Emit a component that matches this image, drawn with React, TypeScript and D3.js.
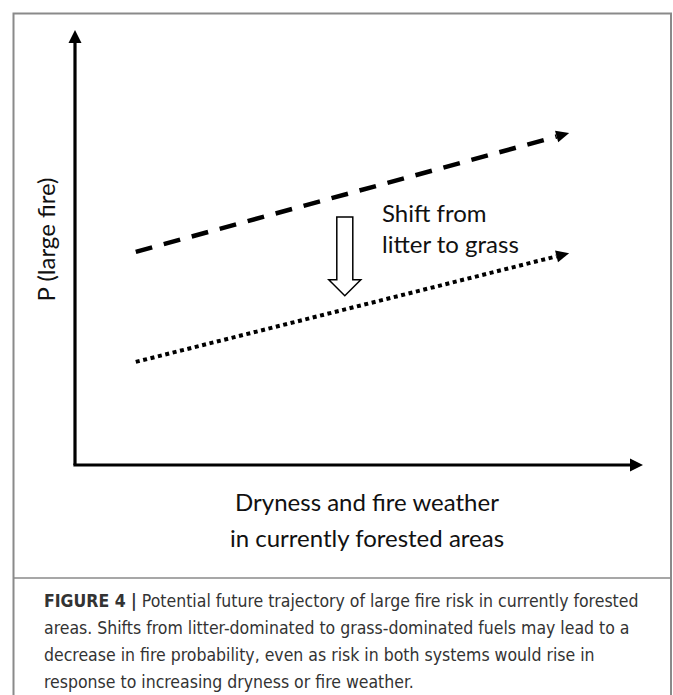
import React from "react";
import * as d3 from "d3";

// ---- data (abstract units, 0..1) ----
const xRange = [0.107, 0.87];            // start / end along dryness axis
const litterSeries = [0.49, 0.763];      // P(large fire), litter-dominated (dashed)
const grassSeries = [0.237, 0.487];      // P(large fire), grass-dominated (dotted)
const shiftArrow = [0.475, 0.57, 0.389]; // x, from, to
const xLabelLines = ["Dryness and fire weather", "in currently forested areas"];
const yLabel = "P (large fire)";
const annotationLines = ["Shift from", "litter to grass"];
const captionBold = "FIGURE 4 |";
const captionLines = [
  " Potential future trajectory of large fire risk in currently forested",
  "areas. Shifts from litter-dominated to grass-dominated fuels may lead to a",
  "decrease in fire probability, even as risk in both systems would rise in",
  "response to increasing dryness or fire weather.",
];

const W = 673;
const H = 695;

function head(x1: number, y1: number, x2: number, y2: number, len: number, wid: number) {
  const dx = x2 - x1, dy = y2 - y1;
  const L = Math.hypot(dx, dy);
  const ux = dx / L, uy = dy / L;
  const bx = x2 - ux * len, by = y2 - uy * len;
  const px = -uy * wid / 2, py = ux * wid / 2;
  return {
    pts: `${x2},${y2} ${bx + px},${by + py} ${bx - px},${by - py}`,
    bx, by,
  };
}

export default function App() {
  const x = d3.scaleLinear().domain([0, 1]).range([75, 643]);
  const y = d3.scaleLinear().domain([0, 1]).range([465, 30]);

  const lineGen = d3.line<[number, number]>().x(d => d[0]).y(d => d[1]);

  const series = [
    { vals: litterSeries, dash: "17 12", width: 4.5 },
    { vals: grassSeries, dash: "4 3.6", width: 4 },
  ];

  const axisFont = "Lato, 'Open Sans', sans-serif";
  const captionFont = "'Liberation Sans Narrow', 'DejaVu Sans Condensed', 'Roboto', sans-serif";

  // axes
  const x0 = x(0), y0 = y(0), x1 = x(1), y1 = y(1);
  const yHead = head(x0, y0, x0, y1, 13, 13);
  const xHead = head(x0, y0, x1, y0, 13, 13);

  // shift arrow
  const ax = x(shiftArrow[0]);
  const aTop = y(shiftArrow[1]);
  const aTip = y(shiftArrow[2]);
  const shaftW = 16, headW = 32, headL = 16;
  const hollow = `M${ax - shaftW / 2},${aTop} L${ax + shaftW / 2},${aTop} L${ax + shaftW / 2},${aTip - headL} L${ax + headW / 2},${aTip - headL} L${ax},${aTip} L${ax - headW / 2},${aTip - headL} L${ax - shaftW / 2},${aTip - headL} Z`;

  return (
    <svg width={W} height={H} style={{ position: "absolute", left: 0, top: 0, background: "#fff" }}>
      <rect x={0} y={0} width={W} height={H} fill="#fff" />
      {/* border */}
      <path d={`M13.5,${H + 2} L13.5,13.5 L671,13.5 L671,${H + 2}`} fill="none" stroke="#8a8a8a" strokeWidth={2} />
      <line x1={13.5} y1={578} x2={671} y2={578} stroke="#8a8a8a" strokeWidth={1.5} />

      {/* axes */}
      <line x1={x0} y1={y0} x2={yHead.bx} y2={yHead.by} stroke="#000" strokeWidth={3.2} />
      <polygon points={yHead.pts} fill="#000" />
      <line x1={x0 - 1.6} y1={y0} x2={xHead.bx} y2={xHead.by} stroke="#000" strokeWidth={3.2} />
      <polygon points={xHead.pts} fill="#000" />

      {/* series */}
      {series.map((s, i) => {
        const ax1 = x(xRange[0]), ay1 = y(s.vals[0]);
        const ax2 = x(xRange[1]), ay2 = y(s.vals[1]);
        const h = head(ax1, ay1, ax2, ay2, 13, 12);
        return (
          <g key={i}>
            <path d={lineGen([[ax1, ay1], [h.bx, h.by]]) || ""} fill="none" stroke="#000" strokeWidth={s.width} strokeDasharray={s.dash} />
            <polygon points={h.pts} fill="#000" />
          </g>
        );
      })}

      {/* hollow arrow */}
      <path d={hollow} fill="#fff" stroke="#000" strokeWidth={1.5} strokeLinejoin="miter" />

      {/* annotation */}
      <text fontFamily={axisFont} fontSize={24} fill="#111">
        {annotationLines.map((t, i) => (
          <tspan key={i} x={382} y={222 + i * 31}>{t}</tspan>
        ))}
      </text>

      {/* x label */}
      <text fontFamily={axisFont} fontSize={24} fill="#111" textAnchor="middle">
        {xLabelLines.map((t, i) => (
          <tspan key={i} x={(x0 + x1) / 2 + 8} y={511 + i * 36}>{t}</tspan>
        ))}
      </text>

      {/* y label */}
      <text fontFamily={axisFont} fontSize={24} fill="#111" textAnchor="middle"
        transform={`translate(55,${(y0 + y1) / 2 - 8}) rotate(-90)`}>{yLabel}</text>

      {/* caption */}
      <text fontFamily={captionFont} fontSize={17.5} fill="#333">
        <tspan x={44} y={607}><tspan fontWeight="bold">{captionBold}</tspan>{captionLines[0]}</tspan>
        {captionLines.slice(1).map((t, i) => (
          <tspan key={i} x={44} y={634 + i * 27}>{t}</tspan>
        ))}
      </text>
    </svg>
  );
}
